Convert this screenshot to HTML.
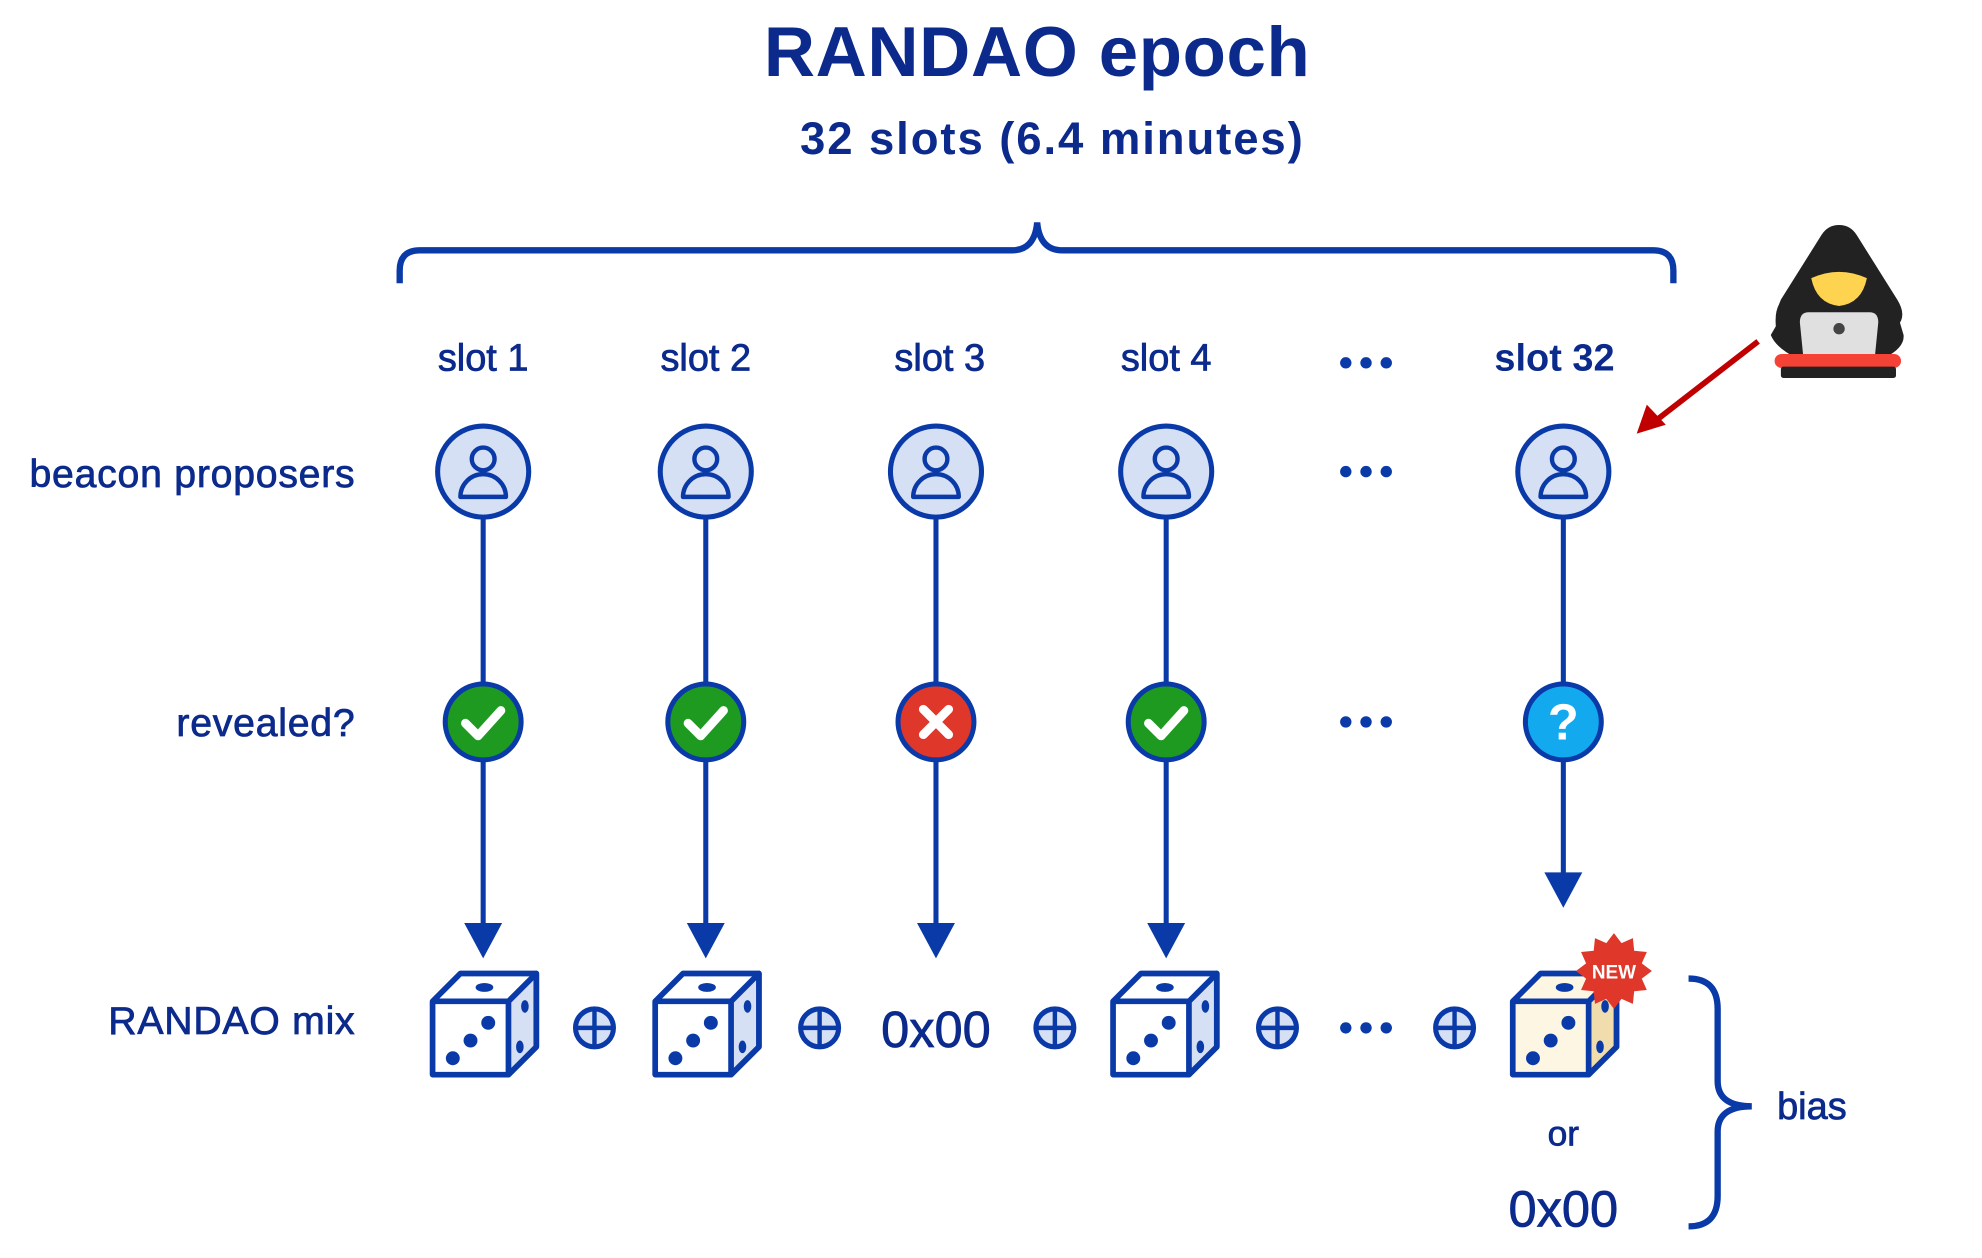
<!DOCTYPE html>
<html><head><meta charset="utf-8"><style>
html,body{margin:0;padding:0;background:#fff;}
svg{display:block;}
text{font-family:"Liberation Sans",sans-serif;fill:#0b2a8c;}
</style></head><body>
<svg width="1982" height="1258" viewBox="0 0 1567 995" preserveAspectRatio="none" xmlns="http://www.w3.org/2000/svg">
<defs>
<g id="dice">
  <path d="M0,24 L22,2 L82,2 L82,60 L60,82 L0,82 Z" fill="#fff" stroke="#0a3aa8" stroke-width="4.5" stroke-linejoin="round"/>
  <path d="M60,24 L82,2 L82,60 L60,82 Z" fill="#d6e0f5" stroke="#0a3aa8" stroke-width="4.5" stroke-linejoin="round"/>
  <path d="M0,24 L60,24" stroke="#0a3aa8" stroke-width="4.5"/>
  <ellipse cx="41" cy="13" rx="7" ry="3.5" fill="#0a3aa8"/>
  <circle cx="16" cy="69" r="5.5" fill="#0a3aa8"/>
  <circle cx="30" cy="55" r="5.5" fill="#0a3aa8"/>
  <circle cx="44" cy="41" r="5.5" fill="#0a3aa8"/>
  <ellipse cx="73" cy="28" rx="3" ry="5" fill="#0a3aa8"/>
  <ellipse cx="69" cy="60" rx="3" ry="5" fill="#0a3aa8"/>
</g>
<g id="prop">
  <circle cx="0" cy="0" r="36" fill="#d6e0f5" stroke="#0a3aa8" stroke-width="4"/>
  <circle cx="0" cy="-10" r="9" fill="none" stroke="#0a3aa8" stroke-width="3.5"/>
  <path d="M-18,20 A18,18 0 0 1 18,20 Z" fill="none" stroke="#0a3aa8" stroke-width="3.5" stroke-linejoin="round"/>
</g>
<g id="xor">
  <circle cx="0" cy="0" r="15" fill="#d6e0f5" stroke="#0a3aa8" stroke-width="4"/>
  <path d="M-15,0 H15 M0,-15 V15" stroke="#0a3aa8" stroke-width="3.5"/>
</g>
<g id="dots">
  <circle cx="-16" cy="0" r="4.5" fill="#0a3aa8"/><circle cx="0" cy="0" r="4.5" fill="#0a3aa8"/><circle cx="16" cy="0" r="4.5" fill="#0a3aa8"/>
</g>
<g id="ok">
  <circle r="30" fill="#1e9a21" stroke="#0a3aa8" stroke-width="4"/>
  <path d="M-14,1 L-4,11 L14,-9" fill="none" stroke="#fff" stroke-width="7" stroke-linecap="round" stroke-linejoin="round"/>
</g>
</defs>

<text x="820" y="60" font-size="56" text-anchor="middle" font-weight="bold" letter-spacing="0.5">RANDAO epoch</text>
<text x="832" y="122" font-size="36" text-anchor="middle" font-weight="bold" letter-spacing="1.5">32 slots (6.4 minutes)</text>

<path d="M316,224 V214 Q316,198 332,198 H800 Q818,198 820,176 Q822,198 840,198 H1307 Q1323,198 1323,214 V224" fill="none" stroke="#0a3aa8" stroke-width="5"/>

<g font-size="30" text-anchor="middle" stroke="#0b2a8c" stroke-width="0.6">
<text x="382" y="293">slot 1</text>
<text x="558" y="293">slot 2</text>
<text x="743" y="293">slot 3</text>
<text x="922" y="293">slot 4</text>
<text x="1229" y="293" font-weight="bold" stroke-width="0">slot 32</text>
</g>
<use href="#dots" x="1080" y="287"/>
<use href="#dots" x="1080" y="373"/>
<use href="#dots" x="1080" y="571"/>
<use href="#dots" x="1080" y="813"/>

<g font-size="31" text-anchor="end" stroke="#0b2a8c" stroke-width="0.6" letter-spacing="0.6">
<text x="281" y="385">beacon proposers</text>
<text x="281" y="582">revealed?</text>
<text x="281" y="818">RANDAO mix</text>
</g>

<g stroke="#0a3aa8" stroke-width="4">
<path d="M382,410 V735 M558,410 V735 M740,410 V735 M922,410 V735 M1236,410 V695"/>
</g>
<g fill="#0a3aa8">
<path d="M367,730 H397 L382,758 Z"/>
<path d="M543,730 H573 L558,758 Z"/>
<path d="M725,730 H755 L740,758 Z"/>
<path d="M907,730 H937 L922,758 Z"/>
<path d="M1221,690 H1251 L1236,718 Z"/>
</g>

<use href="#prop" x="382" y="373"/>
<use href="#prop" x="558" y="373"/>
<use href="#prop" x="740" y="373"/>
<use href="#prop" x="922" y="373"/>
<use href="#prop" x="1236" y="373"/>

<use href="#ok" x="382" y="571"/>
<use href="#ok" x="558" y="571"/>
<use href="#ok" x="922" y="571"/>
<g transform="translate(740,571)">
<circle r="30" fill="#e0372b" stroke="#0a3aa8" stroke-width="4"/>
<path d="M-10,-10 L10,10 M10,-10 L-10,10" stroke="#fff" stroke-width="7" stroke-linecap="round"/>
</g>
<g transform="translate(1236,571)">
<circle r="30" fill="#12a9ee" stroke="#0a3aa8" stroke-width="4"/>
<text x="0" y="14" font-size="40" font-weight="bold" text-anchor="middle" style="fill:#fff">?</text>
</g>

<use href="#dice" x="342" y="768"/>
<use href="#dice" x="518" y="768"/>
<use href="#dice" x="880" y="768"/>
<g transform="translate(1196,768)">
<path d="M0,24 L22,2 L82,2 L82,60 L60,82 L0,82 Z" fill="#fdf6e3" stroke="#0a3aa8" stroke-width="4.5" stroke-linejoin="round"/>
<path d="M60,24 L82,2 L82,60 L60,82 Z" fill="#f1dcae" stroke="#0a3aa8" stroke-width="4.5" stroke-linejoin="round"/>
<path d="M0,24 L60,24" stroke="#0a3aa8" stroke-width="4.5"/>
<ellipse cx="41" cy="13" rx="7" ry="3.5" fill="#0a3aa8"/>
<circle cx="16" cy="69" r="5.5" fill="#0a3aa8"/><circle cx="30" cy="55" r="5.5" fill="#0a3aa8"/><circle cx="44" cy="41" r="5.5" fill="#0a3aa8"/>
<ellipse cx="73" cy="28" rx="3" ry="5" fill="#0a3aa8"/><ellipse cx="69" cy="60" rx="3" ry="5" fill="#0a3aa8"/>
</g>
<g transform="translate(1276,768)">
<polygon points="0,-30 6,-22 15,-26 16,-16 26,-15 22,-6 30,0 22,6 26,15 16,16 15,26 6,22 0,30 -6,22 -15,26 -16,16 -26,15 -22,6 -30,0 -22,-6 -26,-15 -16,-16 -15,-26 -6,-22" fill="#e0372b"/>
<text x="0" y="6" font-size="15" font-weight="bold" text-anchor="middle" style="fill:#fff">NEW</text>
</g>

<use href="#xor" x="470" y="813"/>
<use href="#xor" x="648" y="813"/>
<use href="#xor" x="834" y="813"/>
<use href="#xor" x="1010" y="813"/>
<use href="#xor" x="1150" y="813"/>
<text x="740" y="828" font-size="40" text-anchor="middle" stroke="#0b2a8c" stroke-width="0.6">0x00</text>

<path d="M1335,774 Q1358,774 1358,798 V855 Q1358,875 1385,875 Q1358,875 1358,895 V946 Q1358,970 1335,970" fill="none" stroke="#0a3aa8" stroke-width="5"/>
<text x="1405" y="885" font-size="30" stroke="#0b2a8c" stroke-width="0.6">bias</text>
<text x="1236" y="906" font-size="28" text-anchor="middle" stroke="#0b2a8c" stroke-width="0.6">or</text>
<text x="1236" y="970" font-size="40" text-anchor="middle" stroke="#0b2a8c" stroke-width="0.6">0x00</text>

<g>
<path d="M1454,178 Q1445,178 1440,186 L1408,237 Q1402,250 1410,258 L1500,258 Q1508,250 1500,237 L1468,186 Q1463,178 1454,178 Z" fill="#222"/>
<path d="M1420,234 Q1402,234 1404,258 L1400,265 Q1404,275 1420,283 L1490,283 Q1506,275 1505,265 L1500,248 Q1496,234 1488,234 Z" fill="#222"/>
<path d="M1432,220 Q1454,210 1476,220 Q1472,240 1454,242 Q1436,240 1432,220 Z" fill="#fdd34f"/>
<path d="M1423,255 Q1423,247 1430,247 L1478,247 Q1485,247 1485,255 L1482,285 L1426,285 Z" fill="#e0e0e0"/>
<circle cx="1454" cy="260" r="4.5" fill="#444"/>
<rect x="1403" y="280" width="100" height="11" rx="5.5" fill="#f44336"/>
<rect x="1408" y="290" width="91" height="9" rx="2" fill="#222"/>
</g>
<line x1="1390" y1="270" x2="1310" y2="332" stroke="#c00000" stroke-width="4.5"/>
<polygon points="1294,343 1302,320 1317,336" fill="#c00000"/>
</svg>
</body></html>
